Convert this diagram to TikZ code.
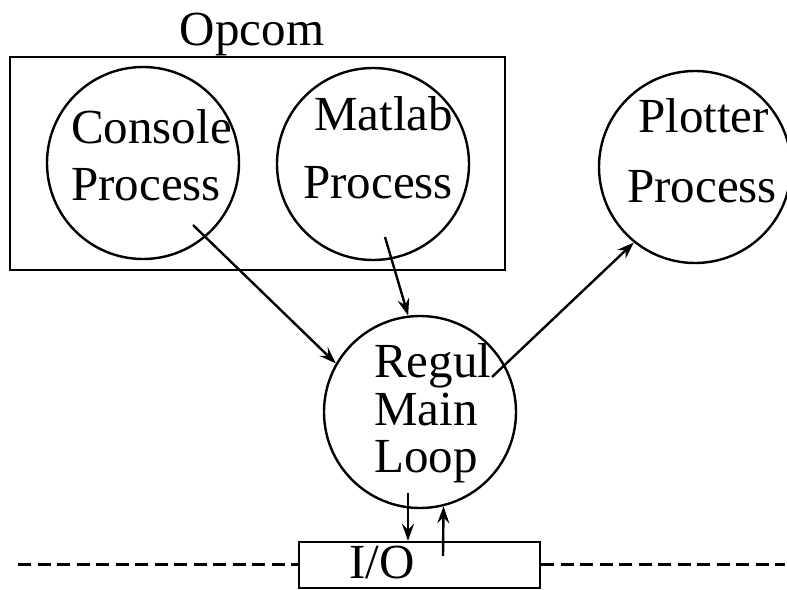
\documentclass[tikz,border=0pt]{standalone}
\usepackage{fontspec}
\setmainfont{Liberation Serif}
\usetikzlibrary{arrows.meta,positioning}
\begin{document}
\begin{tikzpicture}[x=0.5pt,y=-0.5pt,line width=1.2pt,
    >={Stealth[length=8.5pt,width=6pt,inset=3pt]},
    process node/.style={circle,draw,minimum size=96pt,inner sep=0pt},
    box node/.style={rectangle,draw,inner sep=0pt},
    text line/.style={anchor=base west,inner sep=0pt,font=\fontsize{24.5}{29}\selectfont}]
    \useasboundingbox (0,0) rectangle (787,589);

    % boxes
    \node[box node, minimum width=247.5pt, minimum height=106.5pt] (opcom) at (257.5,163.5) {};
    \node[text line, anchor=base] (opcom text) at (252,45) {Opcom};
    \node[box node, minimum width=120.5pt, minimum height=23pt] (io) at (419.5,565) {};
    \node[text line] (io text) at (348,578) {I/O};

    % processes
    \node[process node] (console) at (143,163) {};
    \node[process node] (matlab) at (373,164) {};
    \node[process node] (plotter) at (695,167) {};
    \node[process node] (regul) at (420,412) {};

    \node[text line] (console 1) at (70,143) {Console};
    \node[text line] (console 2) at (70,200) {Process};
    \node[text line] (matlab 1) at (313,130) {Matlab};
    \node[text line] (matlab 2) at (302,198) {Process};
    \node[text line] (plotter 1) at (637,132) {Plotter};
    \node[text line] (plotter 2) at (626,202) {Process};
    \node[text line] (regul 1) at (373,377) {Regul};
    \node[text line] (regul 2) at (373,425) {Main};
    \node[text line] (regul 3) at (373,472) {Loop};

    \coordinate (down start) at ([shift={(-12,81)}]regul.center);
    \coordinate (left end) at (18,564);
    \coordinate (right end) at (785,564);

    \draw[->] ([shift={(50,62)}]console.center) -- (regul.150);
    \draw[->] ([shift={(12,73)}]matlab.center) -- (regul.97);
    \draw[->] ([shift={(72,-35)}]regul.center) -- (plotter.231);
    \draw[->] (down start) -- (down start |- io.north);
    \draw[->] ([shift={(23.5,-9)}]io.center) -- (regul.-76);

    \draw[dashed,line width=1.5pt,dash pattern=on 6.5pt off 3.25pt] (left end) -- (left end -| io.west);
    \draw[dashed,line width=1.5pt,dash pattern=on 6.5pt off 3.25pt] (io.east |- right end) -- (right end);

\end{tikzpicture}
\end{document}
